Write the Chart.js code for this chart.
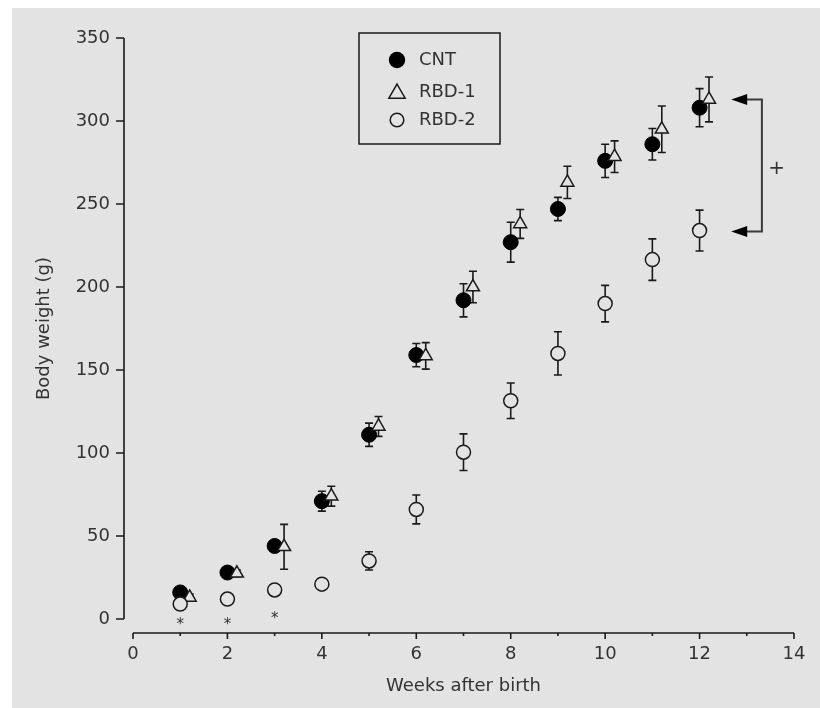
<!DOCTYPE html>
<html>
<head>
<meta charset="utf-8">
<script src="https://cdn.jsdelivr.net/npm/chart.js@4.4.1/dist/chart.umd.min.js"></script>
<style>
  html, body { margin: 0; padding: 0; background: #fff; }
  #wrap { width: 820px; height: 708px; position: relative; }
</style>
</head>
<body>
<div id="wrap"><canvas id="chart"></canvas></div>
<script>
// weeks after birth
const weeks = [1, 2, 3, 4, 5, 6, 7, 8, 9, 10, 11, 12];

// body weight (g), mean and SD
const cntMean  = [16, 28, 44, 71, 111, 159, 192, 227, 247, 276, 286, 308];
const cntSd    = [2, 2, 3, 6, 7, 7, 10, 12, 7, 10, 9.5, 11.5];
const rbd1Mean = [13, 27.5, 43.5, 74, 116, 158.5, 200, 238, 263, 278.5, 295, 313];
const rbd1Sd   = [2, 2, 13.5, 6, 6, 8, 9.5, 8.7, 9.7, 9.5, 14, 13.5];
const rbd2Mean = [9, 12, 17.5, 21, 35, 66, 100.5, 131.5, 160, 190, 216.5, 234];
const rbd2Sd   = [1.5, 1.5, 2, 2, 5.5, 8.7, 11, 10.7, 13, 11, 12.5, 12.3];

const xTicks = [0, 2, 4, 6, 8, 10, 12, 14];
const yTicks = [0, 50, 100, 150, 200, 250, 300, 350];

// significance marks
const starWeeks = [1, 2, 3];
const starY = [-1, -1, 2.5];
const bracketY = [313, 233.5];   // RBD-1 vs RBD-2 at week 12
const bracketX = [12.67, 13.32];
const plusAt = [13.63, 272];

const FONT = '"DejaVu Sans", sans-serif';
const INK = '#1a1a1a';
const TXT = '#333333';
const BG = '#e3e3e3';

function pts(xs, ys, dx) {
  return xs.map((x, i) => ({ x: x + dx, y: ys[i] }));
}

const sets = [
  { label: 'CNT', data: pts(weeks, cntMean, 0), sd: cntSd, order: 3,
    pointStyle: 'circle', pointRadius: 7.5, pointBackgroundColor: '#000', pointBorderColor: '#000', pointBorderWidth: 1 },
  { label: 'RBD-1', data: pts(weeks, rbd1Mean, 0.2), sd: rbd1Sd, order: 2,
    pointStyle: 'triangle', pointRadius: 7.5, pointBackgroundColor: BG, pointBorderColor: INK, pointBorderWidth: 1.5 },
  { label: 'RBD-2', data: pts(weeks, rbd2Mean, 0), sd: rbd2Sd, order: 1,
    pointStyle: 'circle', pointRadius: 7, pointBackgroundColor: BG, pointBorderColor: INK, pointBorderWidth: 1.5 }
];

const bgPlugin = {
  id: 'bg',
  beforeDraw(chart) {
    const ctx = chart.ctx;
    ctx.save();
    ctx.fillStyle = BG;
    ctx.fillRect(12, 8, chart.width - 12, chart.height - 8);
    ctx.restore();
  }
};

// detached axes with outward ticks
const axesPlugin = {
  id: 'axes',
  beforeDatasetsDraw(chart) {
    const { ctx, scales: { x, y } } = chart;
    ctx.save();
    ctx.strokeStyle = INK;
    ctx.lineWidth = 1.6;
    // y axis
    const ax = chart.chartArea.left - 9;
    ctx.beginPath();
    ctx.moveTo(ax, y.getPixelForValue(yTicks[yTicks.length - 1]));
    ctx.lineTo(ax, y.getPixelForValue(0));
    yTicks.forEach(v => {
      const py = y.getPixelForValue(v);
      ctx.moveTo(ax - 8, py);
      ctx.lineTo(ax, py);
    });
    ctx.stroke();
    // x axis
    const ay = chart.chartArea.bottom + 14;
    ctx.beginPath();
    ctx.moveTo(x.getPixelForValue(0), ay);
    ctx.lineTo(x.getPixelForValue(14), ay);
    for (let w = 0; w <= 14; w++) {
      const px = x.getPixelForValue(w);
      ctx.moveTo(px, ay);
      ctx.lineTo(px, ay + (w % 2 === 0 ? 6 : 3));
    }
    ctx.stroke();
    ctx.restore();
  }
};

const errorPlugin = {
  id: 'errorBars',
  beforeDatasetsDraw(chart) {
    const { ctx, scales: { x, y } } = chart;
    ctx.save();
    ctx.strokeStyle = INK;
    ctx.lineWidth = 1.6;
    chart.data.datasets.forEach(ds => {
      ds.data.forEach((p, i) => {
        const px = x.getPixelForValue(p.x);
        const top = y.getPixelForValue(p.y + ds.sd[i]);
        const bot = y.getPixelForValue(p.y - ds.sd[i]);
        ctx.beginPath();
        ctx.moveTo(px, top); ctx.lineTo(px, bot);
        ctx.moveTo(px - 4, top); ctx.lineTo(px + 4, top);
        ctx.moveTo(px - 4, bot); ctx.lineTo(px + 4, bot);
        ctx.stroke();
      });
    });
    ctx.restore();
  }
};

function centeredText(ctx, s, cx, cy) {
  const m = ctx.measureText(s);
  const by = cy + (m.actualBoundingBoxAscent - m.actualBoundingBoxDescent) / 2;
  ctx.fillText(s, cx, by);
}

const notesPlugin = {
  id: 'notes',
  afterDatasetsDraw(chart) {
    const { ctx, scales: { x, y } } = chart;
    ctx.save();
    ctx.fillStyle = TXT;
    ctx.textAlign = 'center';
    ctx.textBaseline = 'alphabetic';
    ctx.font = '15px ' + FONT;
    starWeeks.forEach((w, i) => centeredText(ctx, '*', x.getPixelForValue(w), y.getPixelForValue(starY[i])));

    // bracket with arrows
    const tipX = x.getPixelForValue(bracketX[0]);
    const lineX = x.getPixelForValue(bracketX[1]);
    const y1 = y.getPixelForValue(bracketY[0]);
    const y2 = y.getPixelForValue(bracketY[1]);
    ctx.strokeStyle = '#3a3a3a';
    ctx.lineWidth = 2;
    ctx.beginPath();
    ctx.moveTo(tipX + 14, y1); ctx.lineTo(lineX, y1);
    ctx.lineTo(lineX, y2); ctx.lineTo(tipX + 14, y2);
    ctx.stroke();
    ctx.fillStyle = '#000';
    [y1, y2].forEach(yy => {
      ctx.beginPath();
      ctx.moveTo(tipX, yy);
      ctx.lineTo(tipX + 16, yy - 5.5);
      ctx.lineTo(tipX + 16, yy + 5.5);
      ctx.closePath();
      ctx.fill();
    });
    ctx.fillStyle = TXT;
    ctx.font = '20px ' + FONT;
    centeredText(ctx, '+', x.getPixelForValue(plusAt[0]), y.getPixelForValue(plusAt[1]));

    // legend box
    const bx = 359, by = 33, bw = 141, bh = 111;
    ctx.strokeStyle = INK;
    ctx.lineWidth = 1.5;
    ctx.strokeRect(bx, by, bw, bh);
    const rows = [60, 92, 120];
    const mx = 397;
    // filled circle
    ctx.fillStyle = '#000';
    ctx.beginPath(); ctx.arc(mx, rows[0], 8.2, 0, Math.PI * 2); ctx.fill();
    // triangle
    const r = 9.4;
    ctx.strokeStyle = INK;
    ctx.beginPath();
    for (let k = 0; k < 3; k++) {
      const a = k * 2 * Math.PI / 3;
      const px = mx + Math.sin(a) * r, py = rows[1] + 1.5 - Math.cos(a) * r;
      if (k === 0) ctx.moveTo(px, py); else ctx.lineTo(px, py);
    }
    ctx.closePath(); ctx.stroke();
    // open circle
    ctx.beginPath(); ctx.arc(mx, rows[2], 6.8, 0, Math.PI * 2); ctx.stroke();
    ctx.fillStyle = TXT;
    ctx.font = '18px ' + FONT;
    ctx.textAlign = 'left';
    ctx.textBaseline = 'middle';
    sets.forEach((s, i) => ctx.fillText(s.label, 419, rows[i]));
    ctx.restore();
  }
};

new Chart(document.getElementById('chart'), {
  type: 'scatter',
  data: { datasets: sets },
  plugins: [bgPlugin, axesPlugin, errorPlugin, notesPlugin],
  options: {
    responsive: true,
    maintainAspectRatio: false,
    animation: false,
    events: [],
    layout: { padding: { left: 0, top: 38, right: 26, bottom: 0 } },
    plugins: { legend: { display: false }, tooltip: { enabled: false } },
    scales: {
      x: {
        type: 'linear', min: 0, max: 14,
        afterFit: s => { s.height = 89; },
        afterBuildTicks: s => { s.ticks = xTicks.map(v => ({ value: v })); },
        // hidden tick marks; their length only pushes the labels down
        grid: { display: false, drawTicks: true, tickLength: 25 },
        border: { display: false },
        ticks: { padding: 0, color: TXT, font: { family: FONT, size: 18 } },
        title: { display: true, text: 'Weeks after birth', color: TXT,
                 font: { family: FONT, size: 18 }, padding: { top: 0, bottom: 11 } }
      },
      y: {
        type: 'linear', min: 0, max: 350,
        afterFit: s => { s.width = 133; },
        afterBuildTicks: s => { s.ticks = yTicks.map(v => ({ value: v })); },
        grid: { display: false, drawTicks: true, tickLength: 23 },
        border: { display: false },
        ticks: { padding: 0, color: TXT, font: { family: FONT, size: 18 } },
        title: { display: true, text: 'Body weight (g)', color: TXT,
                 font: { family: FONT, size: 18 }, padding: { top: 34, bottom: 0 } }
      }
    }
  }
});
</script>
</body>
</html>
